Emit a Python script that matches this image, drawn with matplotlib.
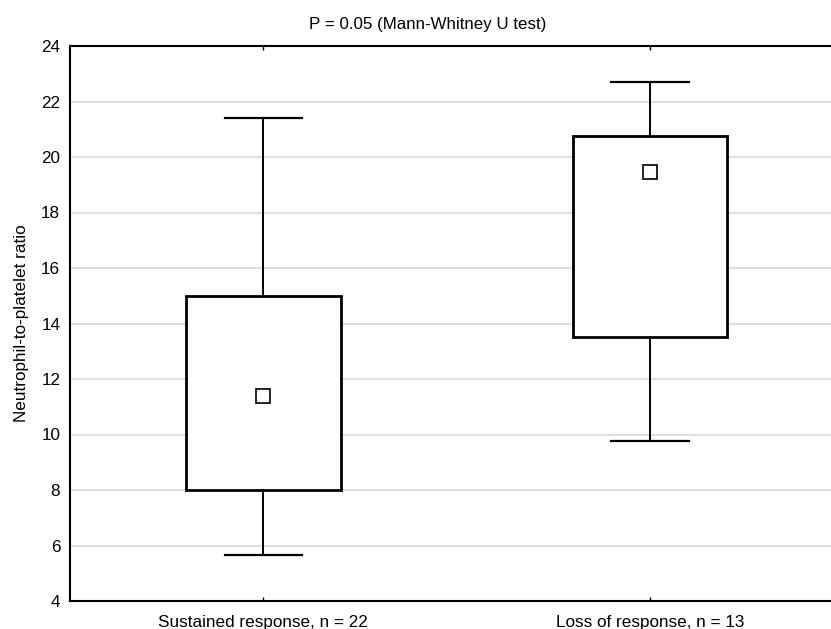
import matplotlib
matplotlib.use("Agg")
import matplotlib.pyplot as plt

# Group summaries: whisker ends, box edges and mean marker
categories = ["Sustained response, n = 22", "Loss of response, n = 13"]
whisker_low = [5.65, 9.75]
box_low = [8.0, 13.5]
means = [11.4, 19.45]
box_high = [15.0, 20.75]
whisker_high = [21.4, 22.7]
y_ticks = [4, 6, 8, 10, 12, 14, 16, 18, 20, 22, 24]

plt.rcParams["font.family"] = ["Liberation Sans", "DejaVu Sans"]

fig = plt.figure(figsize=(8.31, 6.29), dpi=100)
ax = fig.add_axes([70 / 831, 28 / 629, 1 - 70 / 831, 555 / 629])

stats = []
for i, name in enumerate(categories):
    stats.append({
        "label": name,
        "whislo": whisker_low[i],
        "q1": box_low[i],
        "med": means[i],
        "mean": means[i],
        "q3": box_high[i],
        "whishi": whisker_high[i],
        "fliers": [],
    })

ax.bxp(
    stats,
    positions=[1, 2],
    widths=0.4,
    capwidths=0.2,
    showmeans=True,
    patch_artist=True,
    boxprops=dict(facecolor="white", edgecolor="black", linewidth=2.0),
    whiskerprops=dict(color="black", linewidth=1.4),
    capprops=dict(color="black", linewidth=1.6),
    medianprops=dict(visible=False),
    meanprops=dict(marker="s", markersize=10, markerfacecolor="white",
                   markeredgecolor="black", markeredgewidth=1.2),
    zorder=3,
)

ax.set_xlim(0.5, 1 + (831 - 263.5) / 386.5)
ax.set_ylim(4, 24)
ax.set_yticks(y_ticks)
ax.set_xticks([1, 2])
ax.set_xticklabels(categories)

ax.yaxis.grid(True, color="#d9d9d9", linewidth=1.2, zorder=0)
ax.set_axisbelow(True)

for side in ("left", "bottom", "top"):
    ax.spines[side].set_linewidth(1.5)
    ax.spines[side].set_color("black")
ax.spines["right"].set_visible(False)

ax.tick_params(axis="y", length=0, pad=7, labelsize=12.3)
ax.tick_params(axis="x", direction="in", length=3, width=1, pad=10,
               labelsize=12.3, top=True)

ax.set_ylabel("Neutrophil-to-platelet ratio", fontsize=12.3, labelpad=9)
ax.set_title("P = 0.05 (Mann-Whitney U test)", fontsize=12.2, pad=12.5,
             x=(428 - 70) / 761)

fig.savefig("out.png", dpi=100)
